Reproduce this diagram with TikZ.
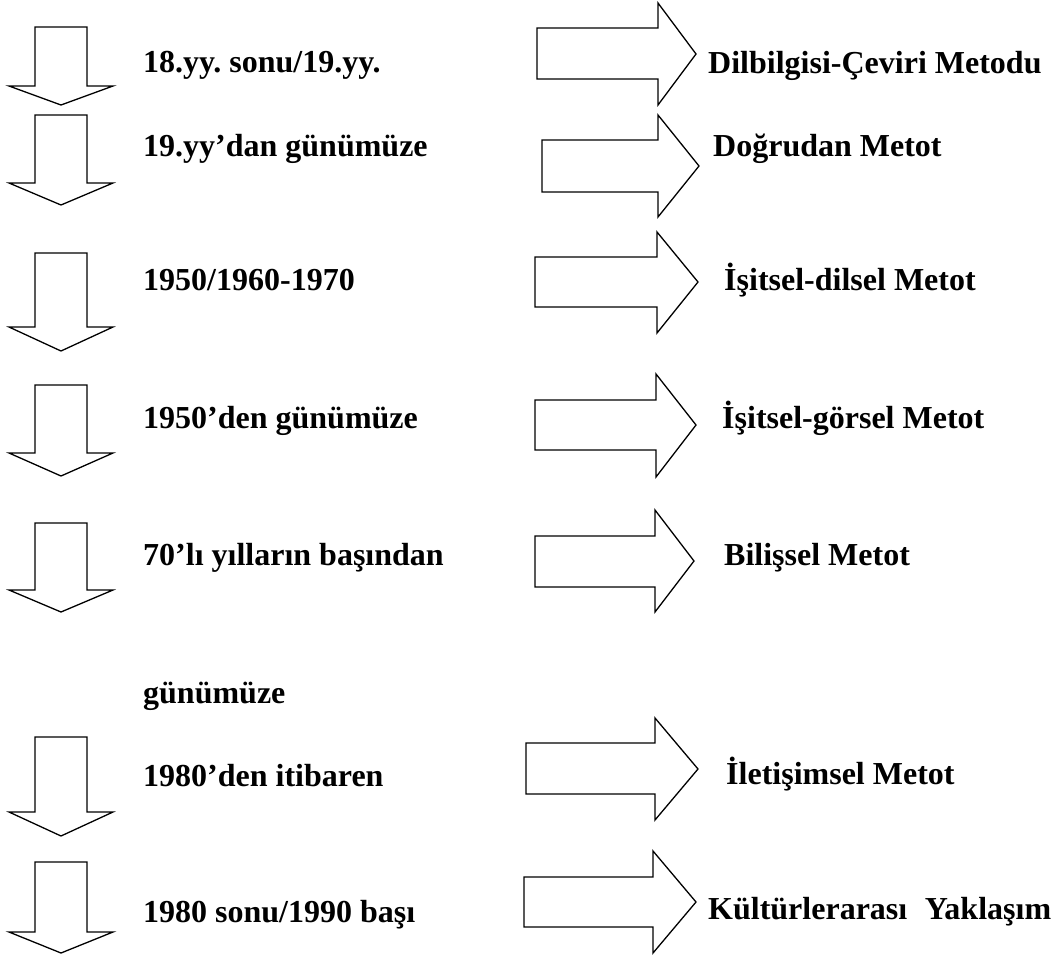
\documentclass[tikz,border=0pt]{standalone}
\usepackage{fontspec}
\setmainfont{Liberation Serif}
\frenchspacing
\begin{document}
\begin{tikzpicture}[x=1pt,y=-1pt,
  fatarrow/.style={draw=black,line width=1.3pt,line join=miter,fill=white},
  lbl/.style={anchor=base west,inner sep=0pt,font=\fontsize{32}{38}\selectfont\bfseries}]
\useasboundingbox (0,0) rectangle (1057,956);
% down arrows: top, shoulder, tip
\foreach \t/\s/\p [count=\i] in {27/86/105,115/183/205,253/327/351,385/453/476,523/590/612,737/812/836,862/932/953}{
  \draw[fatarrow] (35,\t) -- (87,\t) -- (87,\s) -- (113,\s) -- (61,\p) -- (9,\s) -- (35,\s) -- cycle;
}
% right arrows: left, shaft top, shaft bottom, head x, head top, head bottom, tip x, tip y
\foreach \l/\a/\b/\h/\u/\d/\tx/\ty in {537/28/79/658/3/105/696/54,542/140/192/658/115/217/699/166,535/257/307/657/232/333/698/282,535/400/450/656/374/477/696/425,535/536/587/655/510/612/694/561,526/743/794/655/718/820/698/769,524/877/927/653/851/953/696/902}{
  \draw[fatarrow] (\l,\a) -- (\h,\a) -- (\h,\u) -- (\tx,\ty) -- (\h,\d) -- (\h,\b) -- (\l,\b) -- cycle;
}
% left texts
\node[lbl] (t1) at (143,72) {18.yy. sonu/19.yy.};
\node[lbl] (t2) at (143,156) {19.yy’dan günümüze};
\node[lbl] (t3) at (143,290) {1950/1960-1970};
\node[lbl] (t4) at (143,428) {1950’den günümüze};
\node[lbl] (t5) at (143,565) {70’lı yılların başından};
\node[lbl] (t5b) at (143,703) {günümüze};
\node[lbl] (t6) at (143,786) {1980’den itibaren};
\node[lbl] (t7) at (143,922) {1980 sonu/1990 başı};
% right texts
\node[lbl] (m1) at (708,73) {Dilbilgisi-Çeviri Metodu};
\node[lbl] (m2) at (713,156) {Doğrudan Metot};
\node[lbl] (m3) at (724,290) {İşitsel-dilsel Metot};
\node[lbl] (m4) at (722,428) {İşitsel-görsel Metot};
\node[lbl] (m5) at (724,565) {Bilişsel Metot};
\node[lbl] (m6) at (726,784) {İletişimsel Metot};
\node[lbl] (m7) at (708,919) {Kültürlerarası\hspace{0.3em} Yaklaşım};
\end{tikzpicture}
\end{document}
